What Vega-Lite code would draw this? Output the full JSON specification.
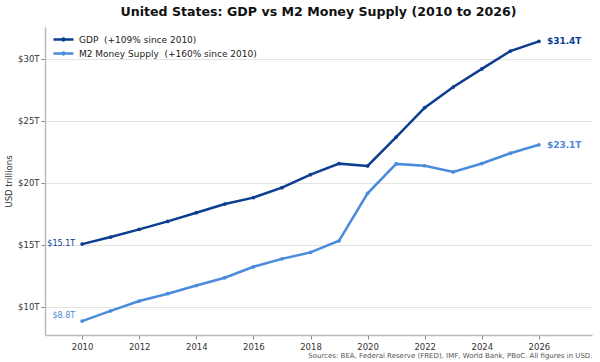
{
  "$schema": "https://vega.github.io/schema/vega-lite/v6.json",
  "width": 547,
  "height": 308,
  "autosize": {"type": "none"},
  "padding": {"left": 45, "top": 27, "right": 8, "bottom": 27},
  "background": "white",
  "title": {
    "text": "United States: GDP vs M2 Money Supply (2010 to 2026)",
    "font": "DejaVu Sans",
    "fontSize": 12.6,
    "fontWeight": "bold",
    "color": "#111111",
    "anchor": "middle",
    "offset": 8
  },
  "config": {
    "view": {"stroke": null},
    "font": "DejaVu Sans",
    "axis": {
      "labelFont": "DejaVu Sans",
      "labelFontSize": 8.5,
      "labelColor": "#333333",
      "domainColor": "#bbbbbb",
      "domainWidth": 1.5,
      "tickColor": "#888888",
      "tickSize": 4,
      "titleFont": "DejaVu Sans",
      "titleFontWeight": "normal"
    }
  },
  "data": {
    "values": [
      {"year": 2010, "series": "GDP", "value": 15.05},
      {"year": 2011, "series": "GDP", "value": 15.62},
      {"year": 2012, "series": "GDP", "value": 16.24},
      {"year": 2013, "series": "GDP", "value": 16.88},
      {"year": 2014, "series": "GDP", "value": 17.58},
      {"year": 2015, "series": "GDP", "value": 18.28},
      {"year": 2016, "series": "GDP", "value": 18.8},
      {"year": 2017, "series": "GDP", "value": 19.6},
      {"year": 2018, "series": "GDP", "value": 20.65},
      {"year": 2019, "series": "GDP", "value": 21.54},
      {"year": 2020, "series": "GDP", "value": 21.35},
      {"year": 2021, "series": "GDP", "value": 23.68},
      {"year": 2022, "series": "GDP", "value": 26.05},
      {"year": 2023, "series": "GDP", "value": 27.72},
      {"year": 2024, "series": "GDP", "value": 29.18},
      {"year": 2025, "series": "GDP", "value": 30.62},
      {"year": 2026, "series": "GDP", "value": 31.4},
      {"year": 2010, "series": "M2", "value": 8.84},
      {"year": 2011, "series": "M2", "value": 9.67},
      {"year": 2012, "series": "M2", "value": 10.46},
      {"year": 2013, "series": "M2", "value": 11.05},
      {"year": 2014, "series": "M2", "value": 11.71},
      {"year": 2015, "series": "M2", "value": 12.34},
      {"year": 2016, "series": "M2", "value": 13.22},
      {"year": 2017, "series": "M2", "value": 13.86},
      {"year": 2018, "series": "M2", "value": 14.38},
      {"year": 2019, "series": "M2", "value": 15.32},
      {"year": 2020, "series": "M2", "value": 19.15},
      {"year": 2021, "series": "M2", "value": 21.52},
      {"year": 2022, "series": "M2", "value": 21.37},
      {"year": 2023, "series": "M2", "value": 20.87},
      {"year": 2024, "series": "M2", "value": 21.55},
      {"year": 2025, "series": "M2", "value": 22.38},
      {"year": 2026, "series": "M2", "value": 23.06}
    ]
  },
  "transform": [
    {"calculate": "'$' + format(datum.value, '.1f') + 'T'", "as": "label"}
  ],
  "encoding": {
    "x": {
      "field": "year",
      "type": "quantitative",
      "scale": {"domain": [2008.7, 2027.86], "nice": false, "zero": false},
      "axis": {
        "values": [2010, 2012, 2014, 2016, 2018, 2020, 2022, 2024, 2026],
        "format": "d",
        "grid": false,
        "labelPadding": 3,
        "title": "Sources: BEA, Federal Reserve (FRED), IMF, World Bank, PBoC. All figures in USD.",
        "titleFontSize": 7,
        "titleColor": "#555555",
        "titleAnchor": "end",
        "titleAlign": "right",
        "titlePadding": 1
      }
    },
    "y": {
      "field": "value",
      "type": "quantitative",
      "scale": {"domain": [7.72, 32.56], "nice": false, "zero": false},
      "axis": {
        "values": [10, 15, 20, 25, 30],
        "labelExpr": "'$' + datum.value + 'T'",
        "grid": true,
        "gridColor": "#e3e3e3",
        "gridWidth": 1,
        "title": "USD trillions",
        "titleFontSize": 8.5,
        "titleColor": "#333333",
        "titlePadding": 4
      }
    },
    "color": {
      "field": "series",
      "type": "nominal",
      "scale": {"domain": ["GDP", "M2"], "range": ["#0b3d91", "#4a8bdb"]},
      "legend": {
        "orient": "none",
        "legendX": 12,
        "legendY": 6,
        "title": null,
        "labelExpr": "datum.value == 'GDP' ? 'GDP\u00a0\u00a0(+109% since 2010)' : 'M2 Money Supply\u00a0\u00a0(+160% since 2010)'",
        "labelFont": "DejaVu Sans",
        "labelFontSize": 9,
        "labelColor": "#222222",
        "labelLimit": 400,
        "symbolType": "M-2,0H2M0.18,0A0.18,0.18,0,1,1,-0.18,0A0.18,0.18,0,1,1,0.18,0Z",
        "symbolSize": 100,
        "symbolStrokeWidth": 2.5,
        "symbolFillColor": "transparent",
        "rowPadding": 1,
        "labelOffset": 9,
        "padding": 0
      }
    }
  },
  "layer": [
    {
      "mark": {"type": "line", "strokeWidth": 2.5, "point": {"filled": true, "size": 14}}
    },
    {
      "transform": [{"filter": "datum.year == 2010 && datum.series == 'GDP'"}],
      "mark": {"type": "text", "align": "right", "baseline": "middle", "dx": -7, "fontSize": 8},
      "encoding": {"text": {"field": "label", "type": "nominal"}}
    },
    {
      "transform": [{"filter": "datum.year == 2010 && datum.series == 'M2'"}],
      "mark": {"type": "text", "align": "right", "baseline": "middle", "dx": -7, "dy": -5, "fontSize": 8},
      "encoding": {"text": {"field": "label", "type": "nominal"}}
    },
    {
      "transform": [{"filter": "datum.year == 2026"}],
      "mark": {"type": "text", "align": "left", "baseline": "middle", "dx": 8, "fontSize": 9, "fontWeight": "bold"},
      "encoding": {"text": {"field": "label", "type": "nominal"}}
    }
  ]
}
